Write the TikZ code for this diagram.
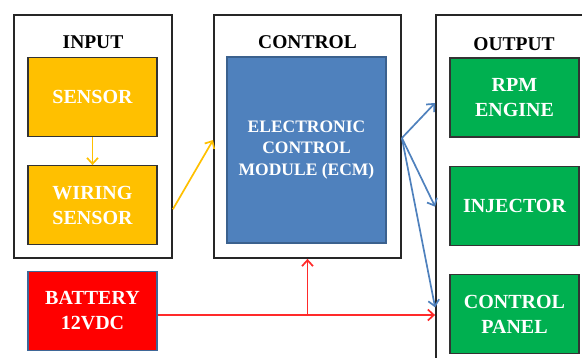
\documentclass[tikz,border=0pt]{standalone}
\usepackage{fontspec}
\setmainfont{Liberation Serif}
\usetikzlibrary{positioning,calc,arrows.meta}
\definecolor{amber}{HTML}{FFC000}
\definecolor{steel}{HTML}{4F81BD}
\definecolor{leaf}{HTML}{00B050}
\definecolor{hot}{HTML}{FF2A2A}
\tikzset{
frame/.style={draw=black!85, line width=1.8pt, minimum height=243pt, inner sep=0pt},
blk/.style={draw=black!80, line width=1.2pt, text=white, align=center,
  font=\bfseries\fontsize{20}{25}\selectfont,
  minimum width=129pt, minimum height=79pt, inner sep=0pt},
head/.style={font=\bfseries\fontsize{19.5}{22}\selectfont},
link/.style={line width=1.7pt, -{Straight Barb[length=6pt,width=11pt]}}
}

\begin{document}
\begin{tikzpicture}[x=1pt,y=-1pt]
\useasboundingbox (0,0) rectangle (582,358);
% outer frames
\node[frame, minimum width=158pt] (input) at (93,136.5) {};
\node[frame, minimum width=187pt] (control) at (307.5,136.5) {};
\node[frame, minimum width=164pt, minimum height=355pt] (output) at (518,192.5) {};
\node[head] (inhead) at (93,42) {INPUT};
\node[head] (ctlhead) at (307.5,42) {CONTROL};
\node[head] (outhead) at (514,44) {OUTPUT};

% input side
\node[blk, fill=amber] (sensor) at (92.5,97) {SENSOR};
\node[blk, fill=amber, below=28pt of sensor] (wiring) {WIRING\\SENSOR};
\node[blk, fill=red, draw=steel!80!black] (battery) at (92.5,311) {BATTERY\\12VDC};

% control
\node[blk, fill=steel, draw=steel!75!black, minimum width=159pt, minimum height=186pt,
  font=\bfseries\fontsize{17.5}{21.5}\selectfont] (ecm) at (306.5,150)
  {ELECTRONIC\\CONTROL\\MODULE (ECM)};

% output side
\node[blk, fill=leaf] (rpm) at (514.5,97.5) {RPM\\ENGINE};
\node[blk, fill=leaf, below=28pt of rpm] (injector) {INJECTOR};
\node[blk, fill=leaf, below=28pt of injector] (panel) {CONTROL\\PANEL};

% connectors
\draw[link, amber] ($(wiring.east -| input.east)+(0,4)$) -- ($(control.west)+(0,3.5)$);
\draw[link, amber] (sensor) -- (wiring);
\draw[link, steel] ($(control.east)+(0,1.5)$) -- ($(rpm.west -| output.west)+(0,5.5)$);
\draw[link, steel] ($(control.east)+(0,1.5)$) -- ($(injector.west -| output.west)+(0,1)$);
\draw[link, steel] ($(control.east)+(0,1.5)$) -- ($(panel.west -| output.west)+(0,-6.5)$);
\coordinate (bat) at ($(battery.east)+(0,4)$);
\coordinate (tap) at (control.south |- bat);
\draw[link, hot] (bat) -- (bat -| output.west);
\draw[link, hot] (tap) -- (control.south);
\end{tikzpicture}
\end{document}
